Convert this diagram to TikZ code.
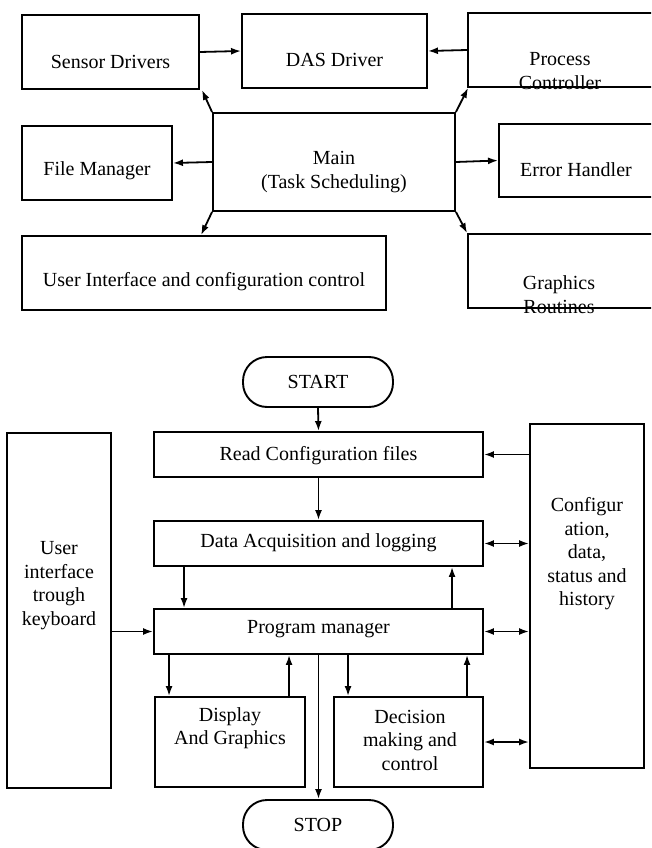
\documentclass[tikz,border=0pt]{standalone}
\usepackage{fontspec}
\setmainfont{Liberation Serif}
\usetikzlibrary{arrows.meta}
\begin{document}
\begin{tikzpicture}[x=1pt,y=-1pt,
  box/.style={draw, line width=1.9pt, rectangle, inner sep=0pt},
  term/.style={draw, line width=1.9pt, rectangle, rounded corners=24pt, inner sep=0pt, minimum width=150pt, minimum height=50pt, font=\fontsize{20}{23.5}\selectfont},
  lbl/.style={font=\fontsize{20}{23.5}\selectfont, align=center, inner sep=0pt},
  arr/.style={line width=1.8pt, -{Latex[length=10pt,width=7pt]}},
  darr/.style={line width=1.8pt, {Latex[length=10pt,width=7pt]}-{Latex[length=10pt,width=7pt]}}
]
\useasboundingbox (0,0) rectangle (651,848);
\clip (0,0) rectangle (651,848);

% ---------- top diagram ----------
\node[box, minimum width=177pt, minimum height=74pt,
  label={[lbl, name=sensorT, yshift=-10pt]center:Sensor Drivers}] (sensor) at (110.5,52) {};
\node[box, minimum width=185pt, minimum height=74pt,
  label={[lbl, name=dasT, yshift=-9pt]center:DAS Driver}] (das) at (334.5,51) {};
\node[box, minimum width=202pt, minimum height=74pt,
  label={[lbl, name=procT, xshift=-9pt, yshift=-21pt]center:Process\\Controller}] (proc) at (569,50) {};
\node[box, minimum width=242pt, minimum height=98pt,
  label={[lbl, name=mainT, yshift=-10pt]center:Main\\(Task Scheduling)}] (main) at (334,162) {};
\node[box, minimum width=150pt, minimum height=74pt,
  label={[lbl, name=fileT, yshift=-8pt]center:File Manager}] (file) at (97,163) {};
\node[box, minimum width=171pt, minimum height=73pt,
  label={[lbl, name=errT, xshift=-8.5pt, yshift=-9pt]center:Error Handler}] (err) at (584.5,160.5) {};
\node[box, minimum width=364pt, minimum height=74pt,
  label={[lbl, name=uiT, yshift=-9pt]center:User Interface and configuration control}] (ui) at (204,273) {};
\node[box, minimum width=202pt, minimum height=74pt,
  label={[lbl, name=gfxT, xshift=-10pt, yshift=-23.5pt]center:Graphics\\Routines}] (gfx) at (569,271) {};

\draw[arr] (sensor.east) -- (das.west);
\draw[arr] (proc.west) -- (das.east);
\draw[arr] (main.west) -- (file.east);
\draw[arr] (main.east) -- (err.west);
\draw[arr] (main.north west) -- ([xshift=2pt]sensor.south east);
\draw[arr] (main.north east) -- ([xshift=1pt]proc.south west);
\draw[arr] (main.south west) -- ([xshift=180pt]ui.north west);
\draw[arr] (main.south east) -- (gfx.north west);

% ---------- bottom flowchart ----------
\node[term] (start) at (318,382) {START};
\node[term] (stop) at (318,825) {STOP};
\node[box, minimum width=329pt, minimum height=45pt,
  label={[lbl, name=readT, yshift=-1pt]center:Read Configuration files}] (read) at (318.5,454.5) {};
\node[box, minimum width=329pt, minimum height=45pt,
  label={[lbl, name=daqT, yshift=1pt]center:Data Acquisition and logging}] (daq) at (318.5,543.5) {};
\node[box, minimum width=329pt, minimum height=45pt,
  label={[lbl, name=progT, yshift=2pt]center:Program manager}] (prog) at (318.5,631.5) {};
\node[box, minimum width=150pt, minimum height=90pt,
  label={[lbl, name=dispT, yshift=14pt]center:Display\\And Graphics}] (disp) at (230,742) {};
\node[box, minimum width=149pt, minimum height=90pt,
  label={[lbl, name=decT, xshift=1.5pt, yshift=2pt]center:Decision\\making and\\control}] (dec) at (408.5,742) {};
\node[box, minimum width=104pt, minimum height=355pt,
  label={[lbl, name=uikT, yshift=25pt]center:User\\interface\\trough\\keyboard}] (uik) at (59,610.5) {};
\node[box, minimum width=114pt, minimum height=344pt,
  label={[lbl, name=cfgT, yshift=42pt]center:Configur\\ation,\\data,\\status and\\history}] (cfg) at (587,596) {};

\draw[arr] (start.south) -- (read.north);
\draw[arr] (read.south) -- (daq.north);
\draw[arr] ([xshift=31pt]daq.south west) -- ([xshift=31pt]prog.north west);
\draw[arr] ([xshift=299pt]prog.north west) -- ([xshift=299pt]daq.south west);
\draw[arr] ([xshift=16pt]prog.south west) -- ([xshift=15pt]disp.north west);
\draw[arr] ([xshift=135pt]disp.north west) -- ([xshift=136pt]prog.south west);
\draw[arr] (prog.south) -- (prog.south |- stop.north);
\draw[arr] ([xshift=195pt]prog.south west) -- ([xshift=15pt]dec.north west);
\draw[arr] ([xshift=134pt]dec.north west) -- ([xshift=314pt]prog.south west);
\draw[arr] (uik.east |- prog.west) -- (prog.west);
\draw[arr] (cfg.west |- read.east) -- (read.east);
\draw[darr] (daq.east) -- (cfg.west |- daq.east);
\draw[darr] (prog.east) -- (cfg.west |- prog.east);
\draw[darr] (dec.east) -- (cfg.west |- dec.east);
\end{tikzpicture}
\end{document}
